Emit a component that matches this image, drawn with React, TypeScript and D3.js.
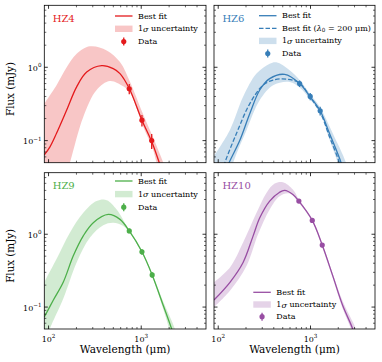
import React from "react";
import * as d3 from "d3";

type P = [number, number];

// ---------- data (wavelength in µm, flux in mJy) ----------
const hz4Fit: P[] = [[90,0.064],[104,0.083],[122,0.126],[157,0.261],[201,0.54],[258,0.86],[374,1.05],[499,0.96],[590,0.82],[743,0.514],[1018,0.19],[1297,0.097],[1566,0.05],[1800,0.03]];
const hz4Upper: P[] = [[90,0.32],[122,0.57],[157,1.0],[201,1.53],[280,1.93],[424,1.7],[590,1.18],[757,0.63],[1040,0.235],[1330,0.114],[1730,0.05],[2000,0.03]];
const hz4Lower: P[] = [[90,0.004],[130,0.016],[170,0.05],[237,0.21],[330,0.49],[460,0.65],[640,0.55],[757,0.45],[1040,0.16],[1330,0.078],[1467,0.05],[1700,0.03]];
const hz4Wave = [743, 1018, 1297];
const hz4Flux = [0.51, 0.19, 0.1];
const hz4Err = [0.08, 0.034, 0.023];

const hz6Fit: P[] = [[110,0.03],[131,0.05],[172,0.102],[220,0.235],[282,0.49],[361,0.7],[525,0.8],[762,0.6],[993,0.395],[1273,0.255],[1603,0.126],[2145,0.05],[2400,0.03]];
const hz6Fit200: P[] = [[100,0.025],[118,0.05],[158,0.126],[220,0.32],[306,0.57],[393,0.67],[547,0.69],[762,0.61],[993,0.39],[1273,0.245],[1603,0.114],[2057,0.05],[2300,0.03]];
const hz6Upper: P[] = [[90,0.062],[134,0.14],[186,0.395],[260,0.82],[361,1.12],[427,1.17],[594,0.91],[762,0.67],[993,0.43],[1273,0.284],[1740,0.126],[2425,0.05],[2700,0.03]];
const hz6Lower: P[] = [[100,0.01],[145,0.05],[203,0.14],[282,0.357],[393,0.57],[594,0.63],[762,0.53],[993,0.365],[1273,0.235],[1600,0.105],[1972,0.05],[2200,0.03]];
const hz6Wave = [762, 993, 1273];
const hz6Flux = [0.6, 0.4, 0.255];
const hz6Err = [0.06, 0.045, 0.035];

const hz9Fit: P[] = [[90,0.073],[112,0.123],[144,0.219],[185,0.506],[237,0.95],[304,1.44],[441,1.87],[590,1.6],[743,1.11],[1018,0.574],[1313,0.276],[1730,0.105],[2130,0.05],[2400,0.03]];
const hz9Upper: P[] = [[90,0.219],[122,0.456],[170,1.05],[237,1.97],[330,2.85],[424,2.94],[543,2.19],[697,1.3],[743,1.15],[1018,0.6],[1313,0.29],[1730,0.118],[2310,0.05],[2600,0.03]];
const hz9Lower: P[] = [[90,0.03],[103,0.05],[144,0.13],[201,0.41],[280,0.9],[389,1.33],[499,1.44],[640,1.3],[743,1.07],[1018,0.55],[1313,0.262],[1730,0.093],[2000,0.05],[2200,0.03]];
const hz9Wave = [743, 1018, 1313];
const hz9Flux = [1.11, 0.574, 0.276];
const hz9Err = [0.08, 0.05, 0.025];

const hz10Fit: P[] = [[90,0.125],[134,0.219],[186,0.41],[239,0.95],[282,1.68],[361,2.85],[463,3.78],[525,4.0],[644,3.51],[748,2.85],[1045,1.55],[1340,0.71],[1740,0.27],[2234,0.105],[2866,0.05],[3200,0.03]];
const hz10Upper: P[] = [[90,0.219],[134,0.35],[186,0.77],[260,1.97],[333,3.69],[409,4.97],[503,5.17],[644,4.11],[748,3.0],[1045,1.62],[1340,0.75],[1740,0.29],[2234,0.12],[3110,0.05],[3400,0.035]];
const hz10Lower: P[] = [[90,0.1],[134,0.168],[203,0.37],[270,1.0],[361,2.19],[463,3.33],[594,3.63],[748,2.7],[1045,1.48],[1340,0.67],[1740,0.25],[2234,0.095],[2750,0.05],[3000,0.035]];
const hz10Wave = [748, 1045, 1340];
const hz10Flux = [2.85, 1.55, 0.71];
const hz10Err = [0.15, 0.1, 0.05];

const xDomain: [number, number] = [90, 5000];
const yDomain: [number, number] = [0.05, 7];
const xMajorTicks = [100, 1000];
const xMinorTicks = [200, 300, 400, 500, 600, 700, 800, 900, 2000, 3000, 4000];
const yMajorTicks = [0.1, 1];
const yMinorTicks = [0.06, 0.07, 0.08, 0.09, 0.2, 0.3, 0.4, 0.5, 0.6, 0.7, 0.8, 0.9, 2, 3, 4, 5, 6];
const xTickLabels = ["2", "3"];
const yTickLabels = ["−1", "0"];

const names = ["HZ4", "HZ6", "HZ9", "HZ10"];
const colors = ["#e41a1c", "#377eb8", "#4daf4a", "#984ea3"];

// ---------- layout ----------
const COLS = [[44.3, 206], [214, 375]];
const ROWS = [[5.3, 162.7], [172.7, 329]];
const FONT = "DejaVu Serif";

type Panel = {
  name: string; color: string; fit: P[]; fit2?: P[]; upper: P[]; lower: P[];
  wave: number[]; flux: number[]; err: number[];
  col: number; row: number;
  legend: { x: number; y: number; dy: number };
};

const panels: Panel[] = [
  { name: names[0], color: colors[0], fit: hz4Fit, upper: hz4Upper, lower: hz4Lower, wave: hz4Wave, flux: hz4Flux, err: hz4Err, col: 0, row: 0, legend: { x: 115, y: 16, dy: 12.8 } },
  { name: names[1], color: colors[1], fit: hz6Fit, fit2: hz6Fit200, upper: hz6Upper, lower: hz6Lower, wave: hz6Wave, flux: hz6Flux, err: hz6Err, col: 1, row: 0, legend: { x: 259, y: 15.7, dy: 12.6 } },
  { name: names[2], color: colors[2], fit: hz9Fit, upper: hz9Upper, lower: hz9Lower, wave: hz9Wave, flux: hz9Flux, err: hz9Err, col: 0, row: 1, legend: { x: 115, y: 181, dy: 13.1 } },
  { name: names[3], color: colors[3], fit: hz10Fit, upper: hz10Upper, lower: hz10Lower, wave: hz10Wave, flux: hz10Flux, err: hz10Err, col: 1, row: 1, legend: { x: 253.3, y: 292.3, dy: 12.2 } },
];

function PanelView({ p }: { p: Panel }) {
  const [x0, x1] = COLS[p.col];
  const [y0, y1] = ROWS[p.row];
  const x = d3.scaleLog().domain(xDomain).range([x0, x1]);
  const y = d3.scaleLog().domain(yDomain).range([y1, y0]);
  const curve = d3.curveCatmullRom.alpha(0.5);
  const line = d3.line<P>().x(d => x(d[0])).y(d => y(d[1])).curve(curve);
  const upperPath = line(p.upper) || "";
  const lowerPath = (line([...p.lower].reverse()) || "").replace(/^M/, "L");
  const bandPath = upperPath + lowerPath + "Z";
  const clipId = "clip-" + p.name;
  const lw = 1.3;
  const L = p.legend;
  const hw = 17.5;
  const tickMaj = 3.5, tickMin = 2;
  const ticks: JSX.Element[] = [];
  xMajorTicks.forEach((t, i) => {
    const xx = x(t);
    ticks.push(<line key={"xM" + i} x1={xx} x2={xx} y1={y1} y2={y1 - tickMaj} stroke="#000" strokeWidth={0.8} />);
    ticks.push(<line key={"xMt" + i} x1={xx} x2={xx} y1={y0} y2={y0 + tickMaj} stroke="#000" strokeWidth={0.8} />);
  });
  xMinorTicks.forEach((t, i) => {
    const xx = x(t);
    ticks.push(<line key={"xm" + i} x1={xx} x2={xx} y1={y1} y2={y1 - tickMin} stroke="#000" strokeWidth={0.6} />);
    ticks.push(<line key={"xmt" + i} x1={xx} x2={xx} y1={y0} y2={y0 + tickMin} stroke="#000" strokeWidth={0.6} />);
  });
  yMajorTicks.forEach((t, i) => {
    const yy = y(t);
    ticks.push(<line key={"yM" + i} x1={x0} x2={x0 + tickMaj} y1={yy} y2={yy} stroke="#000" strokeWidth={0.8} />);
    ticks.push(<line key={"yMr" + i} x1={x1} x2={x1 - tickMaj} y1={yy} y2={yy} stroke="#000" strokeWidth={0.8} />);
  });
  yMinorTicks.forEach((t, i) => {
    const yy = y(t);
    ticks.push(<line key={"ym" + i} x1={x0} x2={x0 + tickMin} y1={yy} y2={yy} stroke="#000" strokeWidth={0.6} />);
    ticks.push(<line key={"ymr" + i} x1={x1} x2={x1 - tickMin} y1={yy} y2={yy} stroke="#000" strokeWidth={0.6} />);
  });

  const rows: JSX.Element[] = [];
  let r = 0;
  const rowY = (k: number) => L.y + k * L.dy;
  const tx = L.x + hw + 5.5;
  rows.push(
    <g key="lf">
      <line x1={L.x} x2={L.x + hw} y1={rowY(r)} y2={rowY(r)} stroke={p.color} strokeWidth={lw} />
      <text x={tx} y={rowY(r)} dominantBaseline="central" fontSize={8}>Best fit</text>
    </g>
  );
  r++;
  if (p.fit2) {
    rows.push(
      <g key="lf2">
        <line x1={L.x} x2={L.x + hw} y1={rowY(r)} y2={rowY(r)} stroke={p.color} strokeWidth={lw} strokeDasharray="4.5,2" />
        <text x={tx} y={rowY(r)} dominantBaseline="central" fontSize={8}>
          Best fit (<tspan fontStyle="italic">λ</tspan><tspan fontSize={5.6} dy={1.8}>0</tspan><tspan dy={-1.8}> = 200 μm)</tspan>
        </text>
      </g>
    );
    r++;
  }
  rows.push(
    <g key="lb">
      <rect x={L.x} y={rowY(r) - 3.2} width={hw} height={6.4} fill={p.color} fillOpacity={0.25} />
      <text x={tx} y={rowY(r)} dominantBaseline="central" fontSize={8}>
        1<tspan fontStyle="italic">σ</tspan> uncertainty
      </text>
    </g>
  );
  r++;
  rows.push(
    <g key="ld">
      <line x1={L.x + hw / 2} x2={L.x + hw / 2} y1={rowY(r) - 4} y2={rowY(r) + 4} stroke={p.color} strokeWidth={lw} />
      <circle cx={L.x + hw / 2} cy={rowY(r)} r={2.6} fill={p.color} />
      <text x={tx} y={rowY(r)} dominantBaseline="central" fontSize={8}>Data</text>
    </g>
  );

  return (
    <g>
      <defs>
        <clipPath id={clipId}>
          <rect x={x0} y={y0} width={x1 - x0} height={y1 - y0} />
        </clipPath>
      </defs>
      <g clipPath={`url(#${clipId})`}>
        <path d={bandPath} fill={p.color} fillOpacity={0.25} stroke="none" />
        <path d={line(p.fit) || ""} fill="none" stroke={p.color} strokeWidth={lw} />
        {p.fit2 && <path d={line(p.fit2) || ""} fill="none" stroke={p.color} strokeWidth={lw} strokeDasharray="4.5,2" />}
        {p.wave.map((w, i) => (
          <g key={i}>
            <line x1={x(w)} x2={x(w)} y1={y(p.flux[i] - p.err[i])} y2={y(p.flux[i] + p.err[i])} stroke={p.color} strokeWidth={lw} />
            <circle cx={x(w)} cy={y(p.flux[i])} r={2.6} fill={p.color} />
          </g>
        ))}
      </g>
      {ticks}
      <rect x={x0} y={y0} width={x1 - x0} height={y1 - y0} fill="none" stroke="#000" strokeWidth={0.8} />
      <text x={x0 + 8.4} y={y0 + 16.5} fontSize={10} fill={p.color}>{p.name}</text>
      {rows}
      {p.col === 0 && yMajorTicks.map((t, i) => (
        <text key={"yl" + i} x={x0 - 2.8} y={y(t) + 3.6} textAnchor="end" fontSize={8}>
          10<tspan fontSize={5.6} dy={-3.6}>{yTickLabels[i]}</tspan>
        </text>
      ))}
      {p.row === 1 && xMajorTicks.map((t, i) => (
        <text key={"xl" + i} x={x(t)} y={y1 + 12.5} textAnchor="middle" fontSize={8}>
          10<tspan fontSize={5.6} dy={-3.6}>{xTickLabels[i]}</tspan>
        </text>
      ))}
      {p.row === 1 && (
        <text x={(x0 + x1) / 2} y={y1 + 24} textAnchor="middle" fontSize={10.5}>Wavelength (μm)</text>
      )}
      {p.col === 0 && (
        <text transform={`translate(${14},${(y0 + y1) / 2 + 5}) rotate(-90)`} textAnchor="middle" fontSize={10.3}>Flux (mJy)</text>
      )}
    </g>
  );
}

export default function App() {
  return (
    <svg width={382} height={362} style={{ position: "absolute", left: 0, top: 0, background: "#fff" }} fontFamily={FONT}>
      <rect width={382} height={362} fill="#fff" />
      {panels.map(p => <PanelView key={p.name} p={p} />)}
    </svg>
  );
}
